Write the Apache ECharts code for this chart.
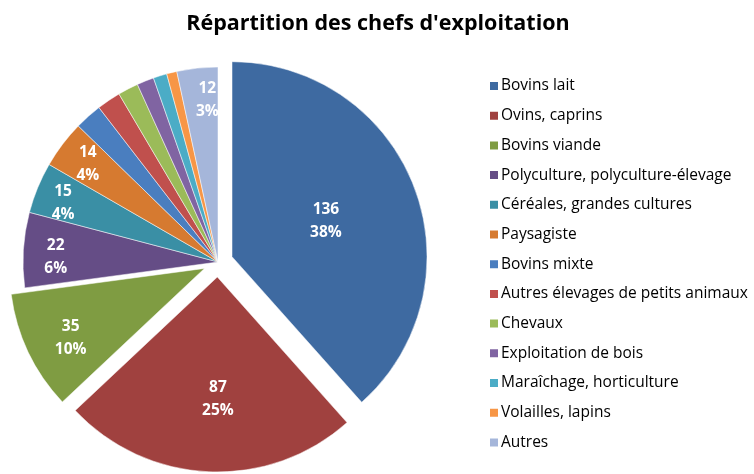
<!DOCTYPE html>
<html>
<head>
<meta charset="utf-8">
<script src="https://cdn.jsdelivr.net/npm/echarts@6/dist/echarts.min.js"></script>
<style>
  html, body { margin: 0; padding: 0; background: #fff; }
  #chart { width: 754px; height: 474px; }
</style>
</head>
<body>
<div id="chart"></div>
<script>
const categories = [
  'Bovins lait', 'Ovins, caprins', 'Bovins viande', 'Polyculture, polyculture-élevage',
  'Céréales, grandes cultures', 'Paysagiste', 'Bovins mixte', 'Autres élevages de petits animaux',
  'Chevaux', 'Exploitation de bois', 'Maraîchage, horticulture', 'Volailles, lapins', 'Autres'
]
const values = [136, 87, 35, 22, 15, 14, 8, 7, 6, 5, 4, 3, 12]
// slices pulled out of the pie
const exploded = ['Bovins lait', 'Ovins, caprins', 'Bovins viande']

const colors = ['#3E6AA1', '#A0413F', '#7F9C42', '#654D86', '#3A8FA5', '#D67A30',
  '#4A7EBF', '#C0504D', '#9BBB59', '#8064A2', '#4BACC6', '#F79646', '#A5B6DA']

// label nudges (Excel "best fit" puts the small ones near the rim)
const labelOffsets = {
  'Ovins, caprins': [5, 22],
  'Bovins viande': [-43, 26],
  'Polyculture, polyculture-élevage': [-62, 1],
  'Céréales, grandes cultures': [-62, -21],
  'Paysagiste': [-50, -37],
  'Autres': [0, -62]
}

const total = values.reduce((a, b) => a + b, 0)

const chart = echarts.init(document.getElementById('chart'))

chart.setOption({
  animation: false,
  color: colors,
  title: {
    text: "Répartition des chefs d'exploitation",
    left: 373,
    textAlign: 'center',
    top: 8,
    textStyle: { fontFamily: 'Open Sans', fontSize: 21.5, fontWeight: 'bold', color: '#000' }
  },
  legend: {
    orient: 'vertical',
    left: 483,
    top: 73,
    itemWidth: 10,
    itemHeight: 10,
    itemGap: 13.7,
    icon: 'rect',
    selectedMode: false,
    textStyle: { fontFamily: 'Open Sans', fontSize: 15.5, color: '#000', padding: [0, 0, 0, -3] },
    data: categories
  },
  series: [
    {
      type: 'pie',
      center: [218, 262],
      radius: 195,
      startAngle: 90,
      clockwise: true,
      selectedMode: 'multiple',
      selectedOffset: 15,
      avoidLabelOverlap: false,
      minShowLabelAngle: 0,
      labelLayout: { hideOverlap: false },
      itemStyle: { borderColor: '#fff', borderWidth: 0.5 },
      label: {
        show: true,
        position: 'inside',
        color: '#fff',
        fontFamily: 'Open Sans',
        fontWeight: 'bold',
        fontSize: 15.5,
        lineHeight: 23,
        formatter: p => p.value + '\n' + Math.round(p.value / total * 100) + '%'
      },
      labelLine: { show: false },
      emphasis: { disabled: true },
      data: categories.map((name, i) => {
        const offset = labelOffsets[name] || [0, 0]
        return {
          name,
          value: values[i],
          selected: exploded.includes(name),
          label: values[i] >= 12 ? { show: true, offset } : { show: false },
          select: { label: { offset }, itemStyle: { color: colors[i] } }
        }
      })
    }
  ]
})
</script>
</body>
</html>
